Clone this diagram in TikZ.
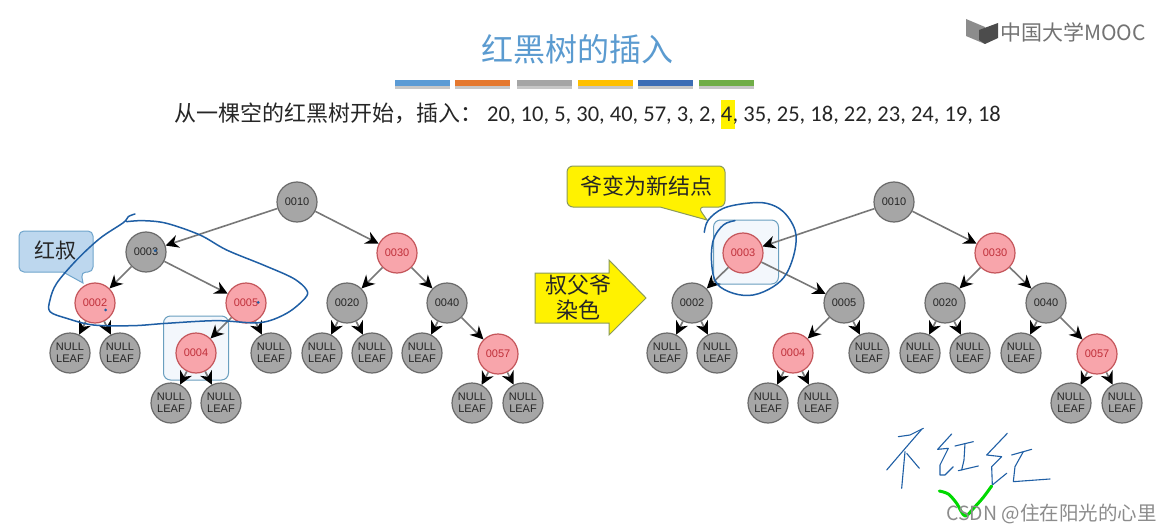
\documentclass[tikz,border=0pt]{standalone}
\usepackage{fontspec}
\setmainfont{Liberation Sans}
\newfontfamily\cjkfont{Noto Sans CJK SC}
\newfontfamily\numfont{Carlito}
\usetikzlibrary{arrows.meta}
\definecolor{grayfill}{HTML}{A6A6A6}
\definecolor{grayline}{HTML}{6A6A6A}
\definecolor{edgeline}{HTML}{787878}
\definecolor{redfill}{HTML}{F8A5AB}
\definecolor{redline}{HTML}{C4555A}
\definecolor{redtext}{HTML}{C0303A}
\definecolor{ink}{HTML}{1F5FA5}
\definecolor{titleblue}{HTML}{5B9BD0}
\definecolor{boxline}{HTML}{6A9FBF}
\definecolor{boxfill}{HTML}{F3F7FC}
\definecolor{calloutfill}{HTML}{BDD7EE}
\definecolor{calloutline}{HTML}{6FA5CC}
\definecolor{yellowline}{HTML}{8A9A5B}
\newcommand{\fs}[1]{\fontsize{#1}{#1}\selectfont}
\tikzset{
  tn/.style={circle,draw=grayline,line width=1.2pt,minimum size=40pt,inner sep=0pt,align=center,font=\fontsize{11}{12}\selectfont,text=black!85},
  gn/.style={tn,fill=grayfill},
  rn/.style={tn,fill=redfill,draw=redline,text=redtext},
  edge/.style={draw=edgeline,line width=1.6pt,-{Stealth[length=13pt,width=13pt,color=black]}},
  selbox/.style={draw=boxline,line width=1pt,fill=boxfill,rounded corners=7pt,minimum width=65pt,minimum height=64pt,inner sep=0pt},
  hand/.style={draw=ink,line width=1.5pt,line cap=round,line join=round},
  handthin/.style={draw=ink,line width=1.1pt,line cap=round,line join=round},
  cjk/.style={font=\cjkfont\fs{#1},text=black!85,inner sep=0pt},
  nums/.style={font=\numfont\fs{22.5},text=black!85,inner sep=0pt},
  dab/.style={fill=ink,inner sep=0pt,minimum size=3pt,circle}
}
\newcommand{\treebody}[1]{%
  \foreach \a/\b in {n10/n3,n10/n30,n3/n2,n3/n5,n2/a,n2/b,n5/n4,n5/c,n4/d,n4/e,n30/n20,n30/n40,n20/f,n20/g,n40/h,n40/n57,n57/i,n57/j}
    \draw[edge] (\a) -- (\b);
}
\begin{document}
\begin{tikzpicture}[x=1pt,y=-1pt]
\useasboundingbox (0,0) rectangle (1172,532);
\fill[white] (0,0) rectangle (1172,532);

% heading
\node[font=\cjkfont\fs{32},text=titleblue,inner sep=0pt] (title) at (577,49) {红黑树的插入};
\foreach \n/\x/\c in {b1/395/5B9BD5,b2/455/E5782E,b3/517/A5A5A5,b4/578/FFC000,b5/638/3C6DB5,b6/699/70AD47}{
  \definecolor{barc}{HTML}{\c}
  \fill[black!22] (\x,81) rectangle ++(54.5,8);
  \fill[barc] (\x,80) rectangle ++(54.5,6.5);
}
\node[anchor=base west,cjk=22] (sub) at (174,122) {从一棵空的红黑树开始，插入：};
\node[anchor=base west,nums] (nums) at (487,122) {20, 10, 5, 30, 40, 57, 3, 2,};
\fill[yellow] (721,100) rectangle (735,129);
\node[anchor=base west,nums] (four) at ([xshift=4.5pt]nums.base east) {4};
\node[anchor=base west,nums] (rest) at (four.base east) {, 35, 25, 18, 22, 23, 24, 19, 18};

% logo
\fill[black!45] (966,19) -- (985,27) -- (985,44) -- (966,36) -- cycle;
\fill[black!70] (979,30) -- (998,23) -- (998,38) -- (985,44) -- (979,40) -- cycle;
\node[anchor=west,font=\cjkfont\fs{21},text=black!55,inner sep=0pt] (logo) at (1000,32) {中国大学MOOC};

% left tree
\begin{scope}[name prefix=L-]
\node[selbox] (sel) at (196,348) {};
\node[gn] (n10) at (297,202) {0010};
\node[gn] (n3) at (146,252) {0003};
\node[rn] (n2) at (95,303) {0002};
\node[rn] (n5) at (246,303) {0005};
\node[rn] (n4) at (196,353) {0004};
\node[gn] (a) at (70,353) {NULL\\LEAF};
\node[gn] (b) at (120,353) {NULL\\LEAF};
\node[gn] (c) at (271,353) {NULL\\LEAF};
\node[gn] (d) at (171,403) {NULL\\LEAF};
\node[gn] (e) at (221,403) {NULL\\LEAF};
\node[rn] (n30) at (397,253) {0030};
\node[gn] (n20) at (347,303) {0020};
\node[gn] (n40) at (447,303) {0040};
\node[gn] (f) at (322,353) {NULL\\LEAF};
\node[gn] (g) at (372,353) {NULL\\LEAF};
\node[gn] (h) at (422,353) {NULL\\LEAF};
\node[rn] (n57) at (498,354) {0057};
\node[gn] (i) at (472,403) {NULL\\LEAF};
\node[gn] (j) at (523,403) {NULL\\LEAF};
\treebody{}
\end{scope}

% right tree
\begin{scope}[name prefix=R-]
\node[selbox] (sel) at (746,252) {};
\node[gn] (n10) at (894,202) {0010};
\node[rn] (n3) at (743,253) {0003};
\node[gn] (n2) at (692,303) {0002};
\node[gn] (n5) at (844,303) {0005};
\node[rn] (n4) at (793,353) {0004};
\node[gn] (a) at (667,353) {NULL\\LEAF};
\node[gn] (b) at (717,353) {NULL\\LEAF};
\node[gn] (c) at (869,353) {NULL\\LEAF};
\node[gn] (d) at (768,403) {NULL\\LEAF};
\node[gn] (e) at (818,403) {NULL\\LEAF};
\node[rn] (n30) at (995,253) {0030};
\node[gn] (n20) at (945,303) {0020};
\node[gn] (n40) at (1046,303) {0040};
\node[gn] (f) at (920,353) {NULL\\LEAF};
\node[gn] (g) at (970,353) {NULL\\LEAF};
\node[gn] (h) at (1021,353) {NULL\\LEAF};
\node[rn] (n57) at (1097,354) {0057};
\node[gn] (i) at (1071,403) {NULL\\LEAF};
\node[gn] (j) at (1122,403) {NULL\\LEAF};
\treebody{}
\end{scope}

% callouts and block arrow
\draw[draw=calloutline,fill=calloutfill,line width=1pt,rounded corners=5pt]
  (19,231) -- (93,231) -- (93,272) -- (81,272) [sharp corners] -- (83,283) -- (63,272) [rounded corners=5pt] -- (19,272) -- cycle;
\node[cjk=21] (uncle) at (55,251) {红叔};
\draw[draw=yellowline,fill=yellow,line width=1pt,rounded corners=6pt]
  (567,166) -- (725,166) -- (725,207) -- (698,207) [sharp corners] -- (707,220) -- (660,207) [rounded corners=6pt] -- (567,207) -- cycle;
\node[cjk=22] (grand) at (646,186) {爷变为新结点};
\draw[draw=yellowline,fill=yellow,line width=1pt]
  (535,273) -- (609,273) -- (609,260) -- (646,298) -- (609,335) -- (609,323) -- (535,323) -- cycle;
\node[cjk=22,align=center] (recolor) at (578,298) {叔父爷\\[3pt]染色};

% handwriting, left loop
\begin{scope}[shift={(0,170)},x=.3333pt,y=-.3333pt]
\draw[hand] plot[smooth,tension=.55] coordinates {(405,132) (385,140) (370,158) (300,205) (230,270) (170,340) (150,390) (150,425) (200,445) (280,465) (400,467) (500,460) (650,452) (780,458) (860,430) (915,385) (920,360) (880,325) (790,285) (680,240) (600,195) (500,160) (430,152) (380,155)};
\node[dab] (dab1) at (466,242) {};
\node[dab] (dab2) at (317,420) {};
\node[dab] (dab3) at (775,397) {};
\end{scope}
% handwriting, right ring
\begin{scope}[shift={(520,150)},x=.3333pt,y=-.3333pt]
\draw[hand] plot[smooth,tension=.6] coordinates {(553,247) (565,210) (610,175) (680,160) (740,160) (790,185) (825,240) (825,300) (800,370) (760,410) (700,435) (640,430) (590,400) (575,340) (580,270) (610,225) (645,212)};
\end{scope}
% handwriting, bottom right
\begin{scope}[shift={(860,410)},x=.3333pt,y=-.3333pt]
\draw[handthin] (115,80) -- (150,75) -- (190,55);
\draw[handthin] plot[smooth] coordinates {(185,58) (140,110) (80,180)};
\draw[handthin] plot[smooth] coordinates {(135,125) (130,180) (125,235)};
\draw[handthin] (140,130) -- (178,175);
\draw[handthin] (275,72) -- (233,118) -- (265,115) -- (240,165) -- (240,195) -- (255,195) -- (280,170);
\draw[handthin] (285,108) -- (340,95);
\draw[handthin] (315,100) -- (312,150) -- (305,180);
\draw[handthin] (295,182) -- (355,168);
\draw[handthin] (442,70) -- (380,135) -- (425,140) -- (395,170) -- (397,225) -- (440,190);
\draw[handthin] (455,135) -- (515,118);
\draw[handthin] (490,125) -- (465,170) -- (460,215) -- (570,207);
\draw[draw=green!85!black,line width=3pt,line cap=round,line join=round] plot[smooth] coordinates {(238,243) (265,252) (290,280) (315,318) (345,290) (370,262) (395,228)};
\end{scope}
\node[anchor=east,font=\cjkfont\fs{19.5},text=black!45,inner sep=0pt] (mark) at (1157,514) {CSDN @住在阳光的心里};
\end{tikzpicture}
\end{document}
